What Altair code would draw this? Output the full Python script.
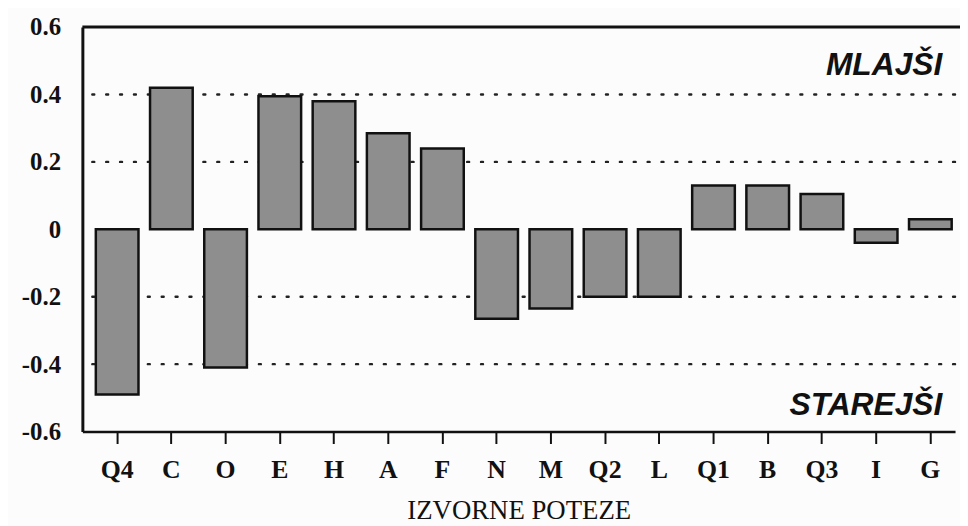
import altair as alt
import pandas as pd

categories = ["Q4", "C", "O", "E", "H", "A", "F", "N", "M", "Q2", "L", "Q1", "B", "Q3", "I", "G"]
values = [-0.49, 0.42, -0.41, 0.395, 0.38, 0.285, 0.24, -0.265, -0.235, -0.2, -0.2, 0.13, 0.13, 0.105, -0.04, 0.03]

y_ticks = [-0.6, -0.4, -0.2, 0.0, 0.2, 0.4, 0.6]
grid_levels = [0.4, 0.2, -0.2, -0.4]
frame_top = [0.6]

notes = ["MLAJŠI", "STAREJŠI"]
note_levels = [0.488, -0.52]

bars_df = pd.DataFrame({"cat": categories, "val": values})
grid_df = pd.DataFrame({"lvl": grid_levels})
top_df = pd.DataFrame({"lvl": frame_top})
note_df = pd.DataFrame({"txt": notes, "lvl": note_levels, "cat": [categories[-1]] * len(notes)})

W, H = 880, 408

xscale = alt.Scale(domain=categories, paddingInner=0.213, paddingOuter=0.155, align=0.8)
yscale = alt.Scale(domain=[-0.6, 0.6], nice=False, zero=False)

xaxis = alt.Axis(
    title="IZVORNE POTEZE",
    labelAngle=0,
    labelFont="Liberation Serif",
    labelFontSize=26,
    labelFontWeight="bold",
    labelColor="#111",
    labelPadding=13,
    tickSize=12,
    tickWidth=2,
    tickColor="#111",
    domainColor="#111",
    domainWidth=2.5,
    titleFont="Liberation Serif",
    titleFontSize=27,
    titleFontWeight="normal",
    titleColor="#111",
    titlePadding=16,
    grid=False,
)

yaxis = alt.Axis(
    title=None,
    values=y_ticks,
    labelExpr="datum.value == 0 ? '0' : (datum.value < 0 ? '-' + format(-datum.value, '.1f') : format(datum.value, '.1f'))",
    labelFont="Liberation Serif",
    labelFontSize=25,
    labelFontWeight="bold",
    labelColor="#111",
    labelPadding=22,
    ticks=False,
    domainColor="#111",
    domainWidth=3,
    grid=False,
)

base_x = alt.X("cat:N", scale=xscale, axis=xaxis, sort=categories)

grid = alt.Chart(grid_df).mark_rule(
    color="#222", strokeWidth=2.4, strokeDash=[2, 12], strokeCap="round"
).encode(y=alt.Y("lvl:Q", scale=yscale, axis=yaxis))

top = alt.Chart(top_df).mark_rule(color="#111", strokeWidth=3).encode(
    y=alt.Y("lvl:Q", scale=yscale),
    x=alt.value(0),
    x2=alt.value(W + 10),
)

bars = alt.Chart(bars_df).mark_bar(
    fill="#8e8e8e", stroke="#111", strokeWidth=2.5
).encode(
    x=base_x,
    y=alt.Y("val:Q", scale=yscale, axis=yaxis),
    y2=alt.datum(0),
)

notes_layer = alt.Chart(note_df).mark_text(
    font="Liberation Sans", fontSize=32, fontWeight="bold", fontStyle="italic",
    align="right", baseline="middle", dx=12, color="#111"
).encode(
    x=alt.X("cat:N", scale=xscale, sort=categories),
    y=alt.Y("lvl:Q", scale=yscale),
    text="txt:N",
)

chart = alt.layer(grid, bars, top, notes_layer).properties(
    width=W,
    height=H,
    background="#fcfcfc",
    autosize=alt.AutoSizeParams(type="none"),
    padding={"left": 75, "top": 17, "right": 5, "bottom": 93},
).configure_view(stroke=None)

chart.save("out.html", embed_options={"renderer": "svg", "actions": False})
